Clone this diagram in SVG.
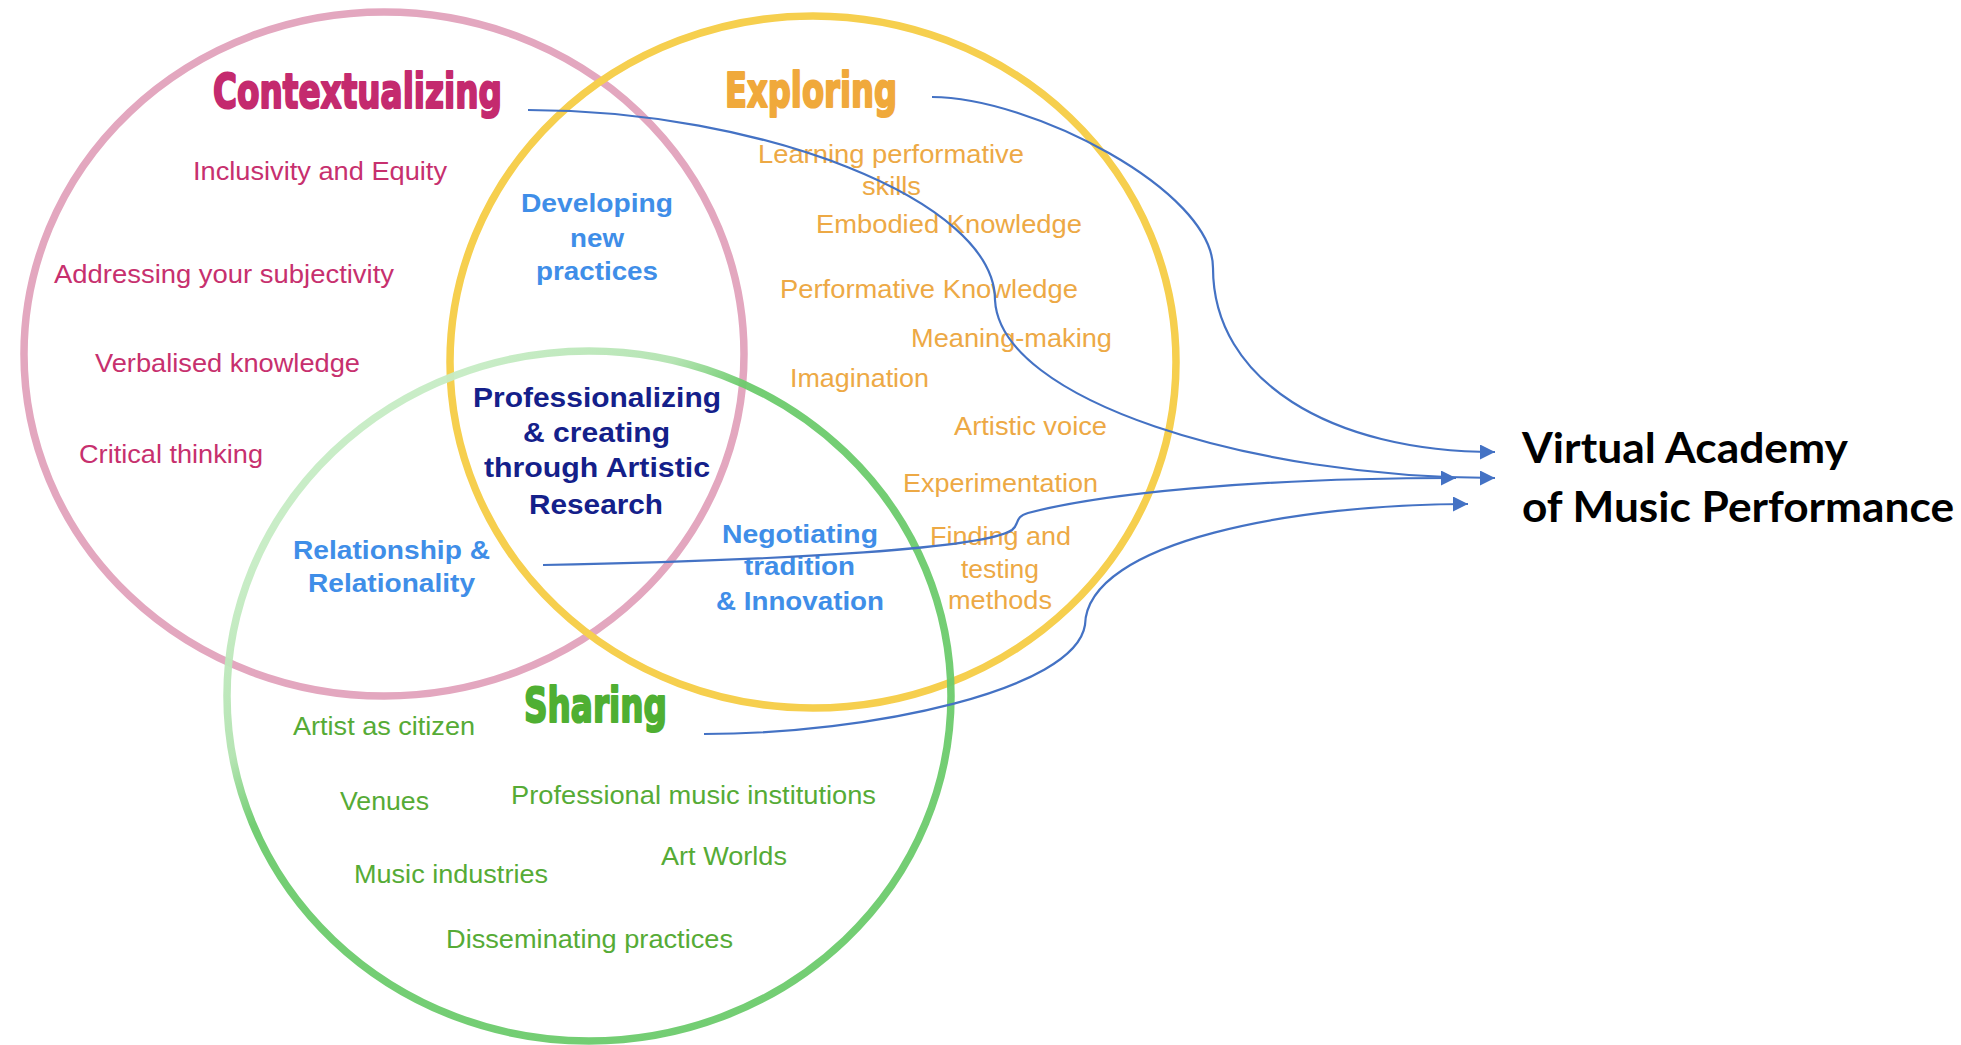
<svg xmlns="http://www.w3.org/2000/svg" width="1961" height="1045" viewBox="0 0 1961 1045">
<style>
.ring{fill:none;stroke-width:7.5}
.t{font-family:"Liberation Sans",Arial,Helvetica,sans-serif;font-size:26px;text-anchor:middle}
.b{font-weight:bold}
.h{font-family:"DejaVu Sans","Liberation Sans",sans-serif;font-weight:bold;font-size:48px;text-anchor:middle;stroke-width:2.2;stroke-linejoin:round}
.pink{fill:#C7306E}
.orange{fill:#EDA945}
.green{fill:#56AB36}
.blue{fill:#3F8EE8}
.navy{fill:#14208A;font-size:28px}
.conn{fill:none;stroke:#4472C4;stroke-width:2.2}
.target{font-family:Lato,"Open Sans","Liberation Sans",sans-serif;font-weight:bold;font-size:42px;fill:#000}
</style>
<defs>
<linearGradient id="greenGrad" gradientUnits="userSpaceOnUse" x1="380" y1="450" x2="560" y2="650">
<stop offset="0" stop-color="#C6ECC4"/>
<stop offset="0.48" stop-color="#B2E3B0"/>
<stop offset="0.72" stop-color="#6CCB6C"/>
<stop offset="1" stop-color="#6CCB6C"/>
</linearGradient>
<marker id="arrow" markerUnits="userSpaceOnUse" viewBox="0 0 15 15" refX="15" refY="7.5" markerWidth="15" markerHeight="15" orient="auto">
<path d="M0 0 L15 7.5 L0 15 z" fill="#4472C4"/>
</marker>
</defs>
<rect width="1961" height="1045" fill="#fff"/>

<g id="contextualizing">
<ellipse class="ring" cx="384" cy="354" rx="360" ry="342" stroke="#E3A7BF"/>
<text class="h" x="357.5" y="108" textLength="289" lengthAdjust="spacingAndGlyphs" fill="#C42A6E" stroke="#C42A6E">Contextualizing</text>
<text class="t pink" x="320" y="180" textLength="254" lengthAdjust="spacingAndGlyphs">Inclusivity and Equity</text>
<text class="t pink" x="224" y="283" textLength="340" lengthAdjust="spacingAndGlyphs">Addressing your subjectivity</text>
<text class="t pink" x="227.5" y="372" textLength="265" lengthAdjust="spacingAndGlyphs">Verbalised knowledge</text>
<text class="t pink" x="171" y="463" textLength="184" lengthAdjust="spacingAndGlyphs">Critical thinking</text>
</g>

<g id="exploring">
<ellipse class="ring" cx="813" cy="362" rx="363" ry="346" stroke="#F6CF4E"/>
<text class="h" x="811" y="107" textLength="172" lengthAdjust="spacingAndGlyphs" fill="#F0A93B" stroke="#F0A93B">Exploring</text>
<text class="t orange" x="891" y="163" textLength="266" lengthAdjust="spacingAndGlyphs">Learning performative</text>
<text class="t orange" x="891.5" y="195" textLength="59" lengthAdjust="spacingAndGlyphs">skills</text>
<text class="t orange" x="949" y="233" textLength="266" lengthAdjust="spacingAndGlyphs">Embodied Knowledge</text>
<text class="t orange" x="929" y="298" textLength="298" lengthAdjust="spacingAndGlyphs">Performative Knowledge</text>
<text class="t orange" x="1011.5" y="347" textLength="201" lengthAdjust="spacingAndGlyphs">Meaning-making</text>
<text class="t orange" x="859.5" y="387" textLength="139" lengthAdjust="spacingAndGlyphs">Imagination</text>
<text class="t orange" x="1030.5" y="435" textLength="153" lengthAdjust="spacingAndGlyphs">Artistic voice</text>
<text class="t orange" x="1000.5" y="492" textLength="195" lengthAdjust="spacingAndGlyphs">Experimentation</text>
<text class="t orange" x="1000.5" y="545" textLength="141" lengthAdjust="spacingAndGlyphs">Finding and</text>
<text class="t orange" x="1000" y="578" textLength="78" lengthAdjust="spacingAndGlyphs">testing</text>
<text class="t orange" x="1000" y="609" textLength="104" lengthAdjust="spacingAndGlyphs">methods</text>
</g>

<g id="sharing">
<ellipse class="ring" cx="589" cy="696" rx="362" ry="345" stroke="url(#greenGrad)" stroke-opacity="0.95"/>
<text class="h" x="595.5" y="722" textLength="143" lengthAdjust="spacingAndGlyphs" fill="#4FAF32" stroke="#4FAF32">Sharing</text>
<text class="t green" x="384" y="735" textLength="182" lengthAdjust="spacingAndGlyphs">Artist as citizen</text>
<text class="t green" x="384.5" y="810" textLength="89" lengthAdjust="spacingAndGlyphs">Venues</text>
<text class="t green" x="693.5" y="804" textLength="365" lengthAdjust="spacingAndGlyphs">Professional music institutions</text>
<text class="t green" x="724" y="865" textLength="126" lengthAdjust="spacingAndGlyphs">Art Worlds</text>
<text class="t green" x="451" y="883" textLength="194" lengthAdjust="spacingAndGlyphs">Music industries</text>
<text class="t green" x="589.5" y="948" textLength="287" lengthAdjust="spacingAndGlyphs">Disseminating practices</text>
</g>

<g id="developing-new-practices">
<text class="t b blue" x="597" y="212" textLength="152" lengthAdjust="spacingAndGlyphs">Developing</text>
<text class="t b blue" x="597" y="247" textLength="54" lengthAdjust="spacingAndGlyphs">new</text>
<text class="t b blue" x="597" y="280" textLength="122" lengthAdjust="spacingAndGlyphs">practices</text>
</g>

<g id="professionalizing">
<text class="t b navy" x="597" y="407" textLength="248" lengthAdjust="spacingAndGlyphs">Professionalizing</text>
<text class="t b navy" x="596.5" y="442" textLength="147" lengthAdjust="spacingAndGlyphs">&amp; creating</text>
<text class="t b navy" x="597" y="477" textLength="226" lengthAdjust="spacingAndGlyphs">through Artistic</text>
<text class="t b navy" x="596" y="514" textLength="134" lengthAdjust="spacingAndGlyphs">Research</text>
</g>

<g id="relationship">
<text class="t b blue" x="391.5" y="559" textLength="197" lengthAdjust="spacingAndGlyphs">Relationship &amp;</text>
<text class="t b blue" x="391.5" y="592" textLength="167" lengthAdjust="spacingAndGlyphs">Relationality</text>
</g>

<g id="negotiating">
<text class="t b blue" x="800" y="543" textLength="156" lengthAdjust="spacingAndGlyphs">Negotiating</text>
<text class="t b blue" x="799.5" y="575" textLength="111" lengthAdjust="spacingAndGlyphs">tradition</text>
<text class="t b blue" x="800" y="610" textLength="168" lengthAdjust="spacingAndGlyphs">&amp; Innovation</text>
</g>

<g id="connectors">
<path class="conn" marker-end="url(#arrow)" d="M932 97 C1030 97 1213 190 1213 268 C1213 380 1330 452 1495 452"/>
<path class="conn" marker-end="url(#arrow)" d="M528 110 C760 110 995 200 995 300 C1000 400 1250 478 1495 478"/>
<path class="conn" marker-end="url(#arrow)" d="M543 565 C800 560 985 548 1012 530 C1020 524 1014 517 1028 513 C1100 494 1250 478 1456 478"/>
<path class="conn" marker-end="url(#arrow)" d="M704 734 C870 734 1075 690 1085 625 C1087 540 1300 504 1468 504"/>
</g>

<g id="virtual-academy">
<text class="target" x="1522" y="463" textLength="326" lengthAdjust="spacingAndGlyphs">Virtual Academy</text>
<text class="target" x="1522" y="522" textLength="432" lengthAdjust="spacingAndGlyphs">of Music Performance</text>
</g>
</svg>
